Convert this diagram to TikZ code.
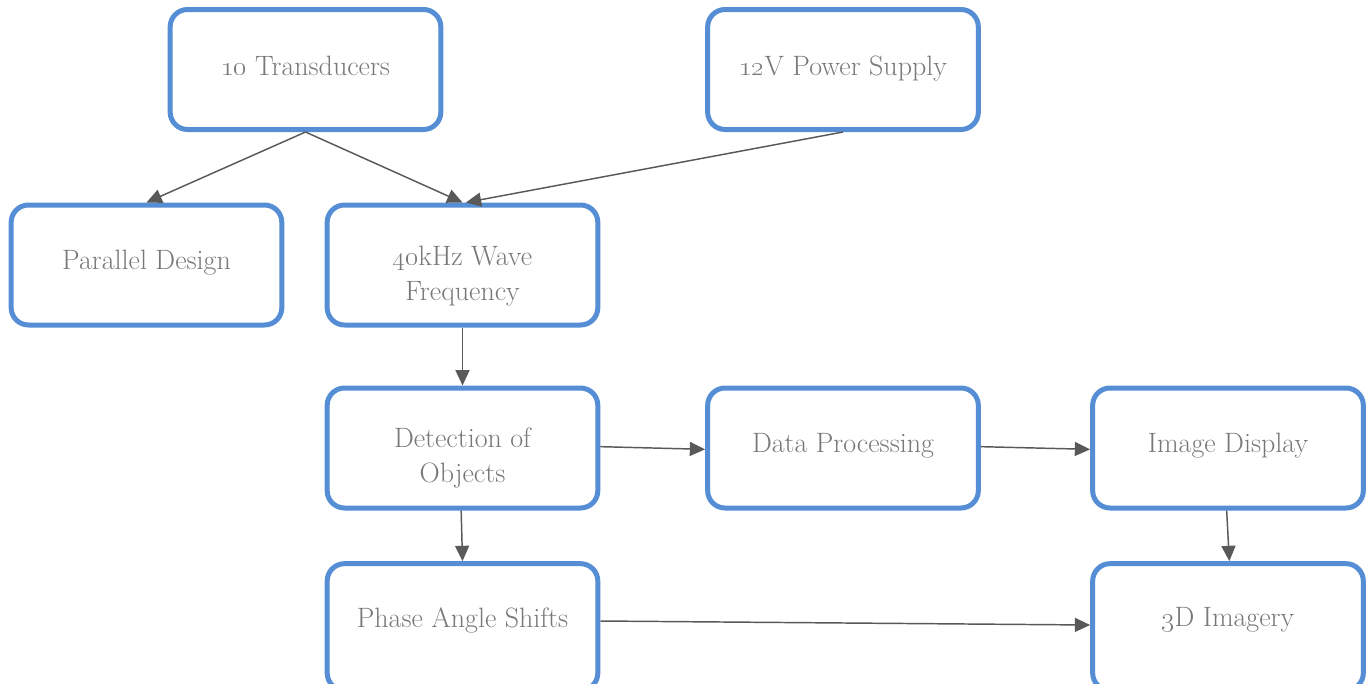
\documentclass[tikz,border=0pt]{standalone}
\usetikzlibrary{arrows.meta}
\definecolor{boxblue}{HTML}{558ED5}
\definecolor{txtgray}{HTML}{787878}
\definecolor{arrgray}{HTML}{595959}
\begin{document}
\begin{tikzpicture}[x=0.75pt,y=-0.75pt,
  box/.style={draw=boxblue, line width=3.75pt, rounded corners=13pt,
    minimum width=203pt, minimum height=90pt, inner sep=0pt, fill=white},
  txt/.style={inner sep=0pt, align=center, text=txtgray, font=\fontsize{21}{26.25}\selectfont},
  conn/.style={draw=arrgray, line width=1.1pt, -{Triangle[length=11.5pt,width=10.5pt]}}]
\useasboundingbox (0,0) rectangle (1372,683);
\node[box, label={[txt, yshift=2.8pt]center:{\oldstylenums{10} Transducers}}] (trans) at (305.5,69.5) {};
\node[box, label={[txt, yshift=0.6pt]center:{\oldstylenums{12}V Power Supply}}] (power) at (843,69.5) {};
\node[box, label={[txt, yshift=1.8pt]center:{Parallel Design}}] (par) at (146.5,265) {};
\node[box, label={[txt, yshift=-8pt]center:{\oldstylenums{40}kHz Wave\\Frequency}}] (wave) at (462.5,265) {};
\node[box, label={[txt, yshift=-7.5pt]center:{Detection of\\Objects}}] (det) at (462.5,448) {};
\node[box, label={[txt, yshift=1.8pt]center:{Data Processing}}] (data) at (843,448) {};
\node[box, label={[txt, yshift=1.8pt]center:{Image Display}}] (img) at (1228,448) {};
\node[box, minimum height=95pt, label={[txt, yshift=4.8pt]center:{Phase Angle Shifts}}] (phase) at (462.5,627) {};
\node[box, minimum height=95pt, label={[txt, yshift=5.2pt]center:{\oldstylenums{3}D Imagery}}] (three) at (1228,627) {};
\draw[conn] (trans.south) -- (par.north);
\draw[conn] (trans.south) -- (wave.north);
\draw[conn] (power.south) -- ([xshift=2.5pt]wave.north);
\draw[conn] (wave.south) -- (det.north);
\draw[conn] ([yshift=1pt]det.east) -- ([yshift=-1pt]data.west);
\draw[conn] ([yshift=1pt]data.east) -- ([yshift=-1pt]img.west);
\draw[conn] ([xshift=-1pt]det.south) -- (phase.north);
\draw[conn] ([xshift=-1pt]img.south) -- ([xshift=1pt]three.north);
\draw[conn] ([yshift=4.5pt]phase.east) -- ([yshift=1.5pt]three.west);
\end{tikzpicture}
\end{document}
